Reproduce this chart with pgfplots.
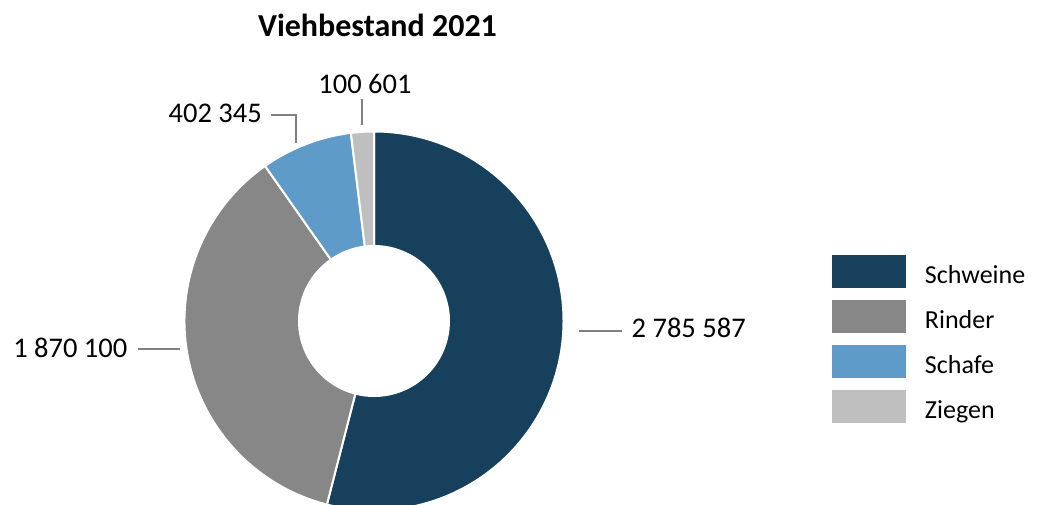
\documentclass[border=0pt]{standalone}
\usepackage{pgfplots}
\pgfplotsset{compat=1.18}
\usepackage{pgfplotstable}
\usepackage{fontspec}
\setmainfont{Carlito}
\definecolor{cSchweine}{HTML}{17405C}
\definecolor{cRinder}{HTML}{878787}
\definecolor{cSchafe}{HTML}{5F9BC9}
\definecolor{cZiegen}{HTML}{BFBFBF}
\definecolor{leader}{HTML}{7F7F7F}

\pgfplotstableread{
animal value
Schweine 2785587
Rinder 1870100
Schafe 402345
Ziegen 100601
}\livestock

\newcommand\slice[3]{%
  \filldraw[fill=#1, draw=white, line width=2bp]
    ([shift={(#2:189.5bp)}]C) arc[start angle=#2, end angle=#3, radius=189.5bp]
    -- ([shift={(#3:75bp)}]C) arc[start angle=#3, end angle=#2, radius=75bp] -- cycle;}

\begin{document}
\begin{tikzpicture}
\pgfplotstablegetelem{0}{value}\of\livestock \global\let\vA\pgfplotsretval
\pgfplotstablegetelem{1}{value}\of\livestock \global\let\vB\pgfplotsretval
\pgfplotstablegetelem{2}{value}\of\livestock \global\let\vC\pgfplotsretval
\pgfplotstablegetelem{3}{value}\of\livestock \global\let\vD\pgfplotsretval
\xdef\total{\fpeval{\vA+\vB+\vC+\vD}}
\xdef\aA{\fpeval{round(90-360*\vA/\total,4)}}
\xdef\aB{\fpeval{round(\aA-360*\vB/\total,4)}}
\xdef\aC{\fpeval{round(\aB-360*\vC/\total,4)}}
\xdef\aD{\fpeval{round(\aC-360*\vD/\total,4)}}
\begin{axis}[
  at={(0,0)}, anchor=south west,
  width=1038bp, height=505bp, scale only axis, hide axis,
  xmin=0, xmax=1038, ymin=0, ymax=505, clip=false,
  legend image code/.code={\fill[#1, draw=none] (0bp,-14bp) rectangle (74bp,19bp);},
  legend cell align=left,
  legend style={at={(0.8015,0.4950)}, anchor=north west, draw=none, fill=none,
    inner sep=0pt, outer sep=0pt, row sep=12bp, column sep=19bp,
    nodes={inner sep=0pt, text height=18bp, text depth=0pt},
    font=\fontsize{26bp}{31bp}\selectfont},
]
\addlegendimage{fill=cSchweine}\addlegendentry{Schweine}
\addlegendimage{fill=cRinder}\addlegendentry{Rinder}
\addlegendimage{fill=cSchafe}\addlegendentry{Schafe}
\addlegendimage{fill=cZiegen}\addlegendentry{Ziegen}

\coordinate (C) at (axis cs:374,184);
\slice{cSchweine}{90}{\aA}
\slice{cRinder}{\aA}{\aB}
\slice{cSchafe}{\aB}{\aC}
\slice{cZiegen}{\aC}{\aD}

\node[anchor=base, font=\bfseries\fontsize{32bp}{38bp}\selectfont, inner sep=0pt]
  at (axis cs:377.5,468) {Viehbestand 2021};

\begin{scope}[font=\fontsize{28.5bp}{34bp}\selectfont]
\draw[leader, line width=1.5bp] (axis cs:579,174) -- (axis cs:621.5,174);
\node[anchor=base west, inner sep=0pt] at (axis cs:631.5,167) {2 785 587};
\draw[leader, line width=1.5bp] (axis cs:138,156) -- (axis cs:180,156);
\node[anchor=base east, inner sep=0pt] at (axis cs:127.5,147) {1 870 100};
\draw[leader, line width=1.5bp] (axis cs:271,390) -- (axis cs:296,390) -- (axis cs:296,362);
\node[anchor=base east, inner sep=0pt] at (axis cs:262,382) {402 345};
\draw[leader, line width=1.5bp] (axis cs:362,406) -- (axis cs:362,380);
\node[anchor=base, inner sep=0pt] at (axis cs:365,411) {100 601};
\end{scope}
\end{axis}
\pgfresetboundingbox
\path (0,0) rectangle (1038bp,505bp);
\end{tikzpicture}
\end{document}
